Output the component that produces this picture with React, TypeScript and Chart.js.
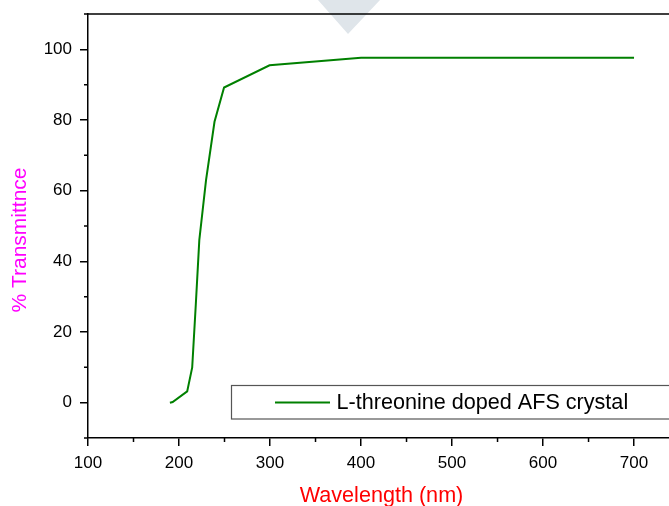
import { useEffect, useRef } from 'react';
import { Chart, registerables } from 'chart.js';

Chart.register(...registerables);

const wavelengths = [190, 193, 209, 214.5, 218.5, 222.3, 226, 229.7, 239, 249.5, 299.5, 400, 700];
const transmittance = [0, 0.2, 3.2, 10, 28, 46, 54.5, 63, 79.5, 89.2, 95.5, 97.6, 97.6];
const xTicks = [100, 200, 300, 400, 500, 600, 700];
const yTicks = [0, 20, 40, 60, 80, 100];
const xMinorTicks = [150, 250, 350, 450, 550, 650];
const yMinorTicks = [-10, 10, 30, 50, 70, 90, 110];
const seriesLabel = 'L-threonine doped AFS crystal';
const xTitle = 'Wavelength (nm)';
const yTitle = '% Transmittnce';

const FONT = '"Liberation Sans", Arial, sans-serif';

const decor = {
  id: 'decor',
  beforeDraw(chart: any) {
    const ctx = chart.ctx;
    ctx.save();
    ctx.fillStyle = 'rgb(223,229,234)';
    ctx.beginPath();
    ctx.moveTo(318, 0);
    ctx.lineTo(380, 0);
    ctx.lineTo(348, 34);
    ctx.closePath();
    ctx.fill();
    ctx.restore();
  },
  afterDraw(chart: any) {
    const ctx = chart.ctx;
    const { left, right, top, bottom } = chart.chartArea;
    const xs = chart.scales.x;
    const ys = chart.scales.y;
    ctx.save();
    ctx.strokeStyle = '#000';
    ctx.lineWidth = 1.5;
    ctx.beginPath();
    ctx.moveTo(left - 0.75, top);
    ctx.lineTo(right, top);
    ctx.lineTo(right, bottom);
    ctx.stroke();
    ctx.lineWidth = 1.5;
    ctx.beginPath();
    xMinorTicks.forEach((v) => {
      const px = xs.getPixelForValue(v);
      ctx.moveTo(px, bottom);
      ctx.lineTo(px, bottom + 4);
    });
    yMinorTicks.forEach((v) => {
      const py = ys.getPixelForValue(v);
      ctx.moveTo(left, py);
      ctx.lineTo(left - 4, py);
    });
    ctx.stroke();
    ctx.strokeStyle = '#555';
    ctx.lineWidth = 1.2;
    ctx.strokeRect(231.5, 385.5, 480, 33.5);
    const ds = chart.data.datasets[0];
    ctx.strokeStyle = ds.borderColor;
    ctx.lineWidth = 2;
    ctx.beginPath();
    ctx.moveTo(275, 402.5);
    ctx.lineTo(330, 402.5);
    ctx.stroke();
    ctx.fillStyle = '#000';
    ctx.font = `21.6px ${FONT}`;
    ctx.textAlign = 'left';
    ctx.textBaseline = 'middle';
    ctx.fillText(ds.label, 336.5, 403);
    ctx.fillStyle = '#ff0000';
    ctx.textAlign = 'center';
    ctx.textBaseline = 'alphabetic';
    ctx.fillText(xTitle, (left + right) / 2, 502);
    ctx.translate(20, 240);
    ctx.rotate(-Math.PI / 2);
    ctx.fillStyle = '#ff00ff';
    ctx.font = `21px ${FONT}`;
    ctx.textBaseline = 'middle';
    ctx.fillText(yTitle, 0, 0);
    ctx.restore();
  },
};

export default function App() {
  const ref = useRef<HTMLCanvasElement>(null);
  useEffect(() => {
    document.body.style.margin = '0';
    const chart = new Chart(ref.current as HTMLCanvasElement, {
      type: 'line',
      data: {
        datasets: [
          {
            label: seriesLabel,
            data: wavelengths.map((x, i) => ({ x, y: transmittance[i] })),
            borderColor: '#008000',
            borderWidth: 2,
            pointRadius: 0,
            tension: 0,
            fill: false,
          },
        ],
      },
      options: {
        animation: false,
        responsive: false,
        devicePixelRatio: 1,
        layout: { padding: { left: 0, top: 14, right: 45, bottom: 0 } },
        plugins: { legend: { display: false }, tooltip: { enabled: false } },
        scales: {
          x: {
            type: 'linear',
            min: 100,
            max: 745,
            afterBuildTicks: (s: any) => {
              s.ticks = xTicks.map((v) => ({ value: v }));
            },
            afterFit: (s: any) => {
              s.height = 68;
              s.paddingLeft = 0;
              s.paddingRight = 0;
              s.paddingTop = 0;
              s.paddingBottom = 0;
            },
            grid: { drawOnChartArea: false, drawTicks: true, tickLength: 8, tickColor: '#000', lineWidth: 1.5, tickWidth: 1.5 },
            border: { color: '#000', width: 1.5 },
            ticks: {
              color: '#000',
              font: { family: FONT, size: 17 },
              padding: 7,
              maxRotation: 0,
              autoSkip: false,
              callback: (v: any) => String(v),
            },
          },
          y: {
            type: 'linear',
            min: -10,
            max: 110,
            afterBuildTicks: (s: any) => {
              s.ticks = yTicks.map((v) => ({ value: v }));
            },
            afterFit: (s: any) => {
              s.width = 88;
              s.paddingLeft = 0;
              s.paddingRight = 0;
              s.paddingTop = 0;
              s.paddingBottom = 0;
            },
            grid: { drawOnChartArea: false, drawTicks: true, tickLength: 8, tickColor: '#000', lineWidth: 1.5, tickWidth: 1.5 },
            border: { color: '#000', width: 1.5 },
            ticks: {
              color: '#000',
              font: { family: FONT, size: 17 },
              padding: 8,
              autoSkip: false,
              callback: (v: any) => String(v),
            },
          },
        },
      },
      plugins: [decor],
    });
    return () => chart.destroy();
  }, []);
  return (
    <div style={{ width: 669, height: 506, overflow: 'hidden', position: 'relative', background: '#fff' }}>
      <canvas ref={ref} width={720} height={506} style={{ display: 'block' }} />
    </div>
  );
}
